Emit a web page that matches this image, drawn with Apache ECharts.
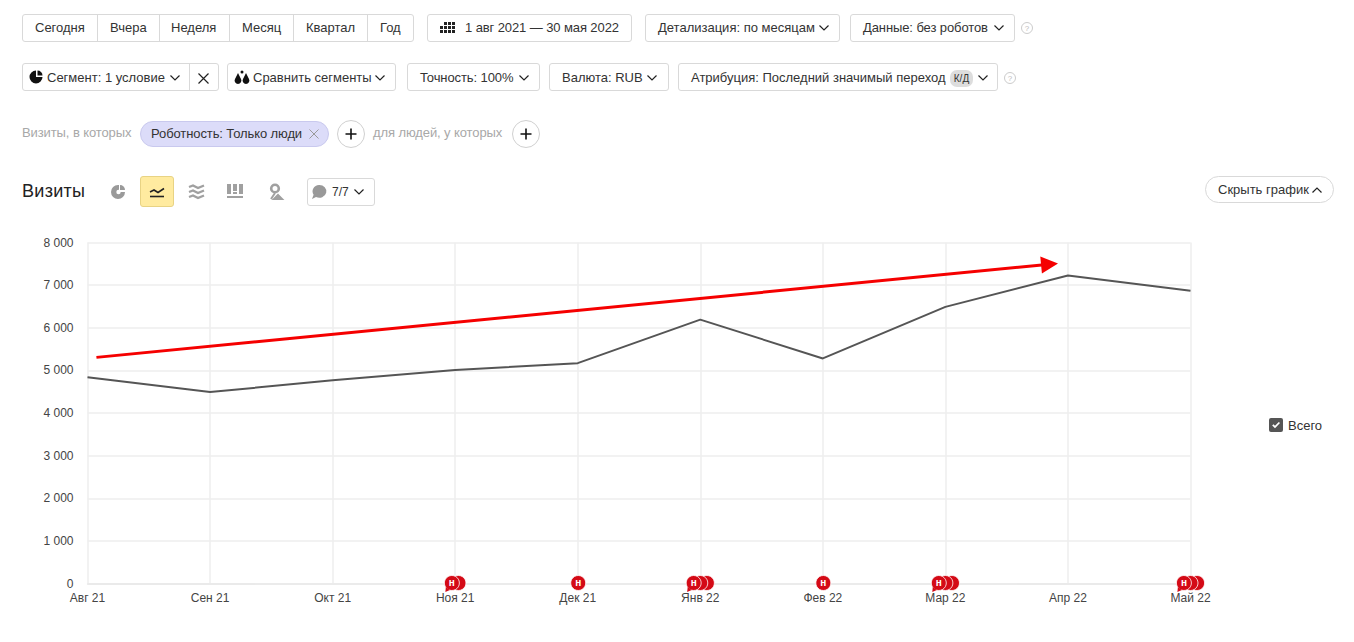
<!DOCTYPE html>
<html lang="ru">
<head>
<meta charset="utf-8">
<title>Визиты</title>
<script src="https://cdn.jsdelivr.net/npm/echarts@6/dist/echarts.min.js"></script>
<style>
html,body{margin:0;padding:0;background:#fff;width:1354px;height:642px;overflow:hidden;font-family:"Liberation Sans",Arial,sans-serif;color:#333}
#chart{position:absolute;left:0;top:0;width:1354px;height:642px}
#ui{position:absolute;left:0;top:0;width:1354px;height:642px}
.b{position:absolute;box-sizing:border-box;border:1px solid #d9d9d9;border-radius:3px;background:#fff;font-size:13px;line-height:26px;white-space:nowrap;color:#333}
.t{position:absolute;white-space:nowrap;font-size:13px}
.sep{position:absolute;width:1px;background:#d9d9d9}
svg{position:absolute;overflow:visible}
</style>
</head>
<body>
<div id="chart"></div>
<div id="ui"></div>
<script>
// ---------- chart data ----------
const months = ['Авг 21','Сен 21','Окт 21','Ноя 21','Дек 21','Янв 22','Фев 22','Мар 22','Апр 22','Май 22'];
const visits = [4840, 4490, 4770, 5010, 5170, 6190, 5280, 6490, 7225, 6870];
const yTicks = ['0','1 000','2 000','3 000','4 000','5 000','6 000','7 000','8 000'];
const noteCounts = [0, 0, 0, 2, 1, 3, 1, 3, 0, 3];
const arrowFrom = [0.073, 5305];
const arrowTo = [7.85, 7490];

// ---------- toolbar ----------
const ui = document.getElementById('ui');
const chev = (x, y, up) => `<svg style="left:${x}px;top:${y}px" width="10" height="6"><path d="${up ? 'M0.5 5.5L5 1L9.5 5.5' : 'M0.5 0.5L5 5L9.5 0.5'}" fill="none" stroke="#222" stroke-width="1.2"/></svg>`;
const box = (x, y, w, h, extra = '') => `<div class="b" style="left:${x}px;top:${y}px;width:${w}px;height:${h}px;${extra}"></div>`;
const txt = (x, cy, s, extra = '') => `<div class="t" style="left:${x}px;top:${cy - 9}px;line-height:18px;${extra}">${s}</div>`;
const sep = (x, y, h) => `<div class="sep" style="left:${x}px;top:${y}px;height:${h}px"></div>`;
const help = (x, y) => `<svg style="left:${x - 6}px;top:${y - 6}px" width="12" height="12"><circle cx="6" cy="6" r="5.5" fill="none" stroke="#ccc"/><text x="6" y="9" font-size="8" text-anchor="middle" fill="#bbb">?</text></svg>`;
const tight = 'letter-spacing:-0.1px;';
let h = '';
// row 1
h += box(22, 14, 392, 28);
[97, 159, 229, 293, 367].forEach(x => h += sep(x, 14, 28));
[[35,'Сегодня'],[110,'Вчера'],[171,'Неделя'],[242,'Месяц'],[306,'Квартал'],[380,'Год']].forEach(a => h += txt(a[0], 27.5, a[1]));
h += box(427, 14, 205, 28);
h += `<svg style="left:440px;top:22px" width="16" height="12" fill="#222">` + [0,1,2].map(r => [0,1,2,3].map(c => (r===0&&c===0)?'':`<rect x="${c*4}" y="${r*4}" width="3" height="3"/>`).join('')).join('') + `</svg>`;
h += txt(465, 27.5, '1 авг 2021 — 30 мая 2022', tight);
h += box(645, 14, 195, 28) + txt(658, 27.5, 'Детализация: по месяцам') + chev(819, 25);
h += box(850, 14, 165, 28) + txt(863, 27.5, 'Данные: без роботов', tight) + chev(994, 25);
h += help(1027, 28);
// row 2
h += box(22, 63, 197, 28) + sep(189, 63, 28);
h += `<svg style="left:29px;top:70px" width="14" height="14"><path d="M7 0.5A6.5 6.5 0 1 0 13.5 7H7Z" fill="#111"/><path d="M8.5 0.5A5 5 0 0 1 13.5 5.5H8.5Z" fill="#111"/></svg>`;
h += txt(47, 77.5, 'Сегмент: 1 условие') + chev(170, 75);
h += `<svg style="left:198px;top:73px" width="11" height="11"><path d="M0.5 0.5L10.5 10.5M10.5 0.5L0.5 10.5" stroke="#222" stroke-width="1.2"/></svg>`;
h += box(227, 63, 169, 28);
h += `<svg style="left:234px;top:70px" width="16" height="14" fill="#111"><path d="M4 3L7 9A3.4 3.4 0 1 1 1 9Z"/><path d="M12 3L15 9A3.4 3.4 0 1 1 9 9Z"/><circle cx="8" cy="2" r="1.5"/></svg>`;
h += txt(253, 77.5, 'Сравнить сегменты') + chev(375, 75);
h += box(407, 63, 133, 28) + txt(420, 77.5, 'Точность: 100%', tight) + chev(519, 75);
h += box(549, 63, 120, 28) + txt(562, 77.5, 'Валюта: RUB') + chev(647, 75);
h += box(678, 63, 320, 28) + txt(691, 77.5, 'Атрибуция: Последний значимый переход');
h += `<div style="position:absolute;left:950px;top:70px;width:23px;height:17px;border-radius:7px;background:#ddd;font-size:10px;line-height:17px;text-align:center;color:#333">К/Д</div>` + chev(978, 75);
h += help(1010, 78);
// row 3
h += txt(22, 133, 'Визиты, в которых', 'color:#a8a8a8;' + tight);
h += `<div style="position:absolute;box-sizing:border-box;left:140px;top:121px;width:189px;height:26px;border-radius:13px;background:#dcdcf9;border:1px solid #c9c9ee"></div>`;
h += txt(151, 134, 'Роботность: Только люди', 'color:#333;' + tight);
h += `<svg style="left:309px;top:129px" width="10" height="10"><path d="M0.5 0.5L9.5 9.5M9.5 0.5L0.5 9.5" stroke="#999"/></svg>`;
[351, 526].forEach(cx => {
  h += `<svg style="left:${cx - 14}px;top:120px" width="28" height="28"><circle cx="14" cy="14" r="13.5" fill="#fff" stroke="#d0d0d0"/><path d="M14 8.5V19.5M8.5 14H19.5" stroke="#111" stroke-width="1.6"/></svg>`;
});
h += txt(373, 133, 'для людей, у которых', 'color:#a8a8a8;' + tight);
// row 4
h += txt(22, 191, 'Визиты', 'font-size:18px;color:#222;letter-spacing:0.3px');
h += `<svg style="left:110px;top:184px" width="16" height="16"><path d="M8 1A7 7 0 1 0 15 8H9V1Z" fill="#9a9a9a"/><path d="M10 1A5 5 0 0 1 15 6H10Z" fill="#9a9a9a"/><circle cx="8.5" cy="8" r="2.2" fill="#fff"/></svg>`;
h += `<div style="position:absolute;box-sizing:border-box;left:140px;top:176px;width:34px;height:31px;border-radius:3px;background:#ffeba0;border:1px solid #e8d384"></div>`;
h += `<svg style="left:149px;top:186px" width="16" height="12"><path d="M1 6L5 4L9 6.5L15 2.5" fill="none" stroke="#222" stroke-width="1.6"/><path d="M1 10.5H15" stroke="#222" stroke-width="1.6"/></svg>`;
h += `<svg style="left:189px;top:184px" width="15" height="15" fill="none" stroke="#a0a0a0" stroke-width="2.4"><path d="M0 3L4 1.5L9 4L15 1.5M0 8L4 6.5L9 9L15 6.5M0 13L4 11.5L9 14L15 11.5"/></svg>`;
h += `<svg style="left:227px;top:183px" width="16" height="16" fill="#a0a0a0"><rect x="0" y="1" width="4" height="10"/><rect x="6" y="1" width="4" height="7"/><rect x="6" y="9" width="4" height="2"/><rect x="12" y="1" width="4" height="10"/><rect x="0" y="13" width="16" height="2"/></svg>`;
h += `<svg style="left:267px;top:183px" width="16" height="17"><circle cx="8" cy="5.5" r="3.8" fill="none" stroke="#a0a0a0" stroke-width="2.6"/><path d="M8 10L4 16M11 12L15 16H7Z" stroke="#a0a0a0" stroke-width="2" fill="#a0a0a0"/></svg>`;
h += box(307, 178, 68, 28);
h += `<svg style="left:311px;top:184px" width="16" height="16"><path d="M8 1A7 6.4 0 1 1 5 13L1 15L2.6 10.8A7 6.4 0 0 1 8 1Z" fill="#999"/></svg>`;
h += txt(332, 191.5, '7/7', 'font-size:12px') + chev(354, 189);
h += `<div class="b" style="left:1205px;top:176px;width:129px;height:27px;border-radius:14px"></div>`;
h += txt(1218, 189.5, 'Скрыть график') + chev(1312, 187, true);
ui.innerHTML = h;

// ---------- chart ----------
const chart = echarts.init(document.getElementById('chart'), null, { renderer: 'svg' });
const checkIcon = 'path://M2 0H12A2 2 0 0 1 14 2V12A2 2 0 0 1 12 14H2A2 2 0 0 1 0 12V2A2 2 0 0 1 2 0ZM3.2 7.4L6 10.2L11 5.1L9.8 3.9L6 7.8L4.4 6.2Z';
const noteRed = '#d40a16';

function renderNotes(params, api) {
  const n = api.value(2);
  if (!n) return null;
  const c = api.coord([api.value(0), 0]);
  const step = 6.6;
  const start = c[0] - (n - 1) * step / 2 + (n === 1 ? 0.5 : 0);
  const kids = [];
  for (let i = n - 1; i >= 0; i--) {
    kids.push({
      type: 'circle',
      shape: { cx: start + i * step, cy: c[1] - 0.5, r: 7.5 },
      style: { fill: noteRed, stroke: '#fff', lineWidth: 0.8 }
    });
  }
  if (n > 1) {
    kids.push({
      type: 'polygon',
      shape: { points: [[start - 6, c[1] + 3.5], [start - 6.5, c[1] + 8.5], [start - 2, c[1] + 6.5]] },
      style: { fill: noteRed }
    });
  }
  kids.push({
    type: 'text',
    style: { x: start, y: c[1] - 1, text: 'н', fill: '#fff', font: 'bold 10px "Liberation Sans"', align: 'center', verticalAlign: 'middle' }
  });
  return { type: 'group', children: kids };
}

chart.setOption({
  animation: false,
  textStyle: { fontFamily: '"Liberation Sans", Arial, sans-serif' },
  grid: { left: 87.5, top: 242.5, width: 1103, height: 341, containLabel: false },
  legend: {
    data: [{ name: 'Всего', icon: checkIcon }],
    left: 1269, top: 418, padding: 0, itemWidth: 14, itemHeight: 14, itemGap: 5,
    selectedMode: false,
    textStyle: { color: '#333', fontSize: 13 }
  },
  xAxis: [{
    type: 'category', data: months, boundaryGap: false,
    axisLine: { show: true, lineStyle: { color: '#e8e8e8', width: 1.5 } },
    axisTick: { show: false },
    axisLabel: { color: '#444', fontSize: 12, margin: 8, interval: 0, hideOverlap: false, showMinLabel: true, showMaxLabel: true },
    splitLine: { show: true, interval: 0, lineStyle: { color: '#eeeeee', width: 1.5 } }
  }, {
    type: 'value', min: 0, max: months.length - 1, show: false, splitLine: { show: false }
  }],
  yAxis: {
    type: 'value', min: 0, max: 8000, interval: 1000,
    axisLine: { show: false }, axisTick: { show: false },
    axisLabel: { color: '#444', fontSize: 12, margin: 14, formatter: (v) => yTicks[v / 1000] },
    splitLine: { show: true, lineStyle: { color: '#eeeeee', width: 1.5 } }
  },
  series: [{
    name: 'Всего', type: 'line', data: visits, showSymbol: false, symbol: 'none',
    lineStyle: { color: '#555', width: 2 }, itemStyle: { color: '#555' }, z: 3, silent: true
  }, {
    name: 'Тренд', type: 'line', xAxisIndex: 1, data: [], symbol: 'none', silent: true, z: 4,
    markLine: {
      silent: true, animation: false, symbol: ['none', 'triangle'], symbolSize: [17, 17],
      label: { show: false },
      lineStyle: { color: '#f50000', width: 3, type: 'solid' },
      itemStyle: { color: '#f50000' },
      emphasis: { disabled: true },
      data: [[{ coord: arrowFrom }, { coord: arrowTo }]]
    }
  }, {
    name: 'Примечания', type: 'custom', coordinateSystem: 'cartesian2d', z: 10, silent: true, clip: false,
    encode: { x: 0, y: 1 },
    renderItem: renderNotes,
    data: noteCounts.map((n, i) => [i, 0, n])
  }]
});
</script>
</body>
</html>
